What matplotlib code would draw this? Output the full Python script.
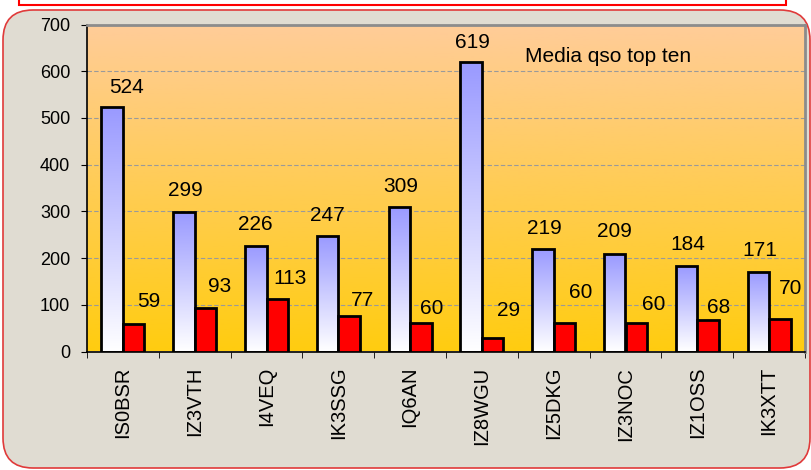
import numpy as np
import matplotlib
matplotlib.use('Agg')
import matplotlib.pyplot as plt
from matplotlib.patches import FancyBboxPatch, Rectangle
from matplotlib.colors import LinearSegmentedColormap

plt.rcParams['font.family'] = ['Liberation Sans', 'DejaVu Sans']

# dati
calls = ['IS0BSR', 'IZ3VTH', 'I4VEQ', 'IK3SSG', 'IQ6AN',
         'IZ8WGU', 'IZ5DKG', 'IZ3NOC', 'IZ1OSS', 'IK3XTT']
qso_blue = [524, 299, 226, 247, 309, 619, 219, 209, 184, 171]
qso_red = [59, 93, 113, 77, 60, 29, 60, 60, 68, 70]
title = 'Media qso top ten'
yticks = [0, 100, 200, 300, 400, 500, 600, 700]

# label offsets (pixels) - placed by hand in the original
blue_off = [(14, 21), (1, 23), (0, 23), (0, 23), (1, 23),
            (1, 22), (1, 23), (0, 24), (1, 23), (1, 23)]
red_off = [(15, 24), (14, 24), (13, 22), (13, 17), (11, 17),
           (16, 29), (16, 33), (17, 21), (11, 14), (11, 32)]

W, H = 811, 470
fig = plt.figure(figsize=(W / 100, H / 100), dpi=100)
fig.patch.set_facecolor('white')

# cornice esterna
frame = FancyBboxPatch((3, 2), 807, 458, boxstyle='round,pad=0,rounding_size=30',
                       transform=None, facecolor='#e0dcd2', edgecolor='#e03a3a', lw=1.2,
                       zorder=-2)
fig.add_artist(frame)
top_box = Rectangle((19, 465), 767, 20, transform=None,
                    facecolor='white', edgecolor='#ff0000', lw=1.5, zorder=-2)
fig.add_artist(top_box)

ax = fig.add_axes([87 / W, (H - 351.5) / H, 718 / W, 327 / H])
ax.set_facecolor('none')

# sfondo sfumato
bg = LinearSegmentedColormap.from_list('bg', ['#ffcc10', '#ffcc99'])
grad = np.linspace(0, 1, 256).reshape(-1, 1)
ax.imshow(grad, cmap=bg, origin='lower', extent=[-0.5, 9.5, 0, 700],
          aspect='auto', zorder=0)

x = np.arange(len(calls))
bw = 0.3
bars_b = ax.bar(x - bw / 2, qso_blue, bw, facecolor='none', edgecolor='black', lw=2.0, zorder=3)
bars_r = ax.bar(x + bw / 2, qso_red, bw, facecolor='#ff0000', edgecolor='black', lw=2.0, zorder=3)

blue_cm = LinearSegmentedColormap.from_list('bl', ['#ffffff', '#9999ff'])
for b in bars_b:
    x0, h = b.get_x(), b.get_height()
    im = ax.imshow(grad, cmap=blue_cm, origin='lower',
                   extent=[x0, x0 + b.get_width(), 0, h], aspect='auto', zorder=2)
    im.set_clip_path(b)

for i in range(len(calls)):
    ax.annotate(str(qso_blue[i]), (x[i] - bw / 2, qso_blue[i]), xytext=blue_off[i],
                textcoords='offset pixels', ha='center', va='center_baseline', fontsize=15)
    ax.annotate(str(qso_red[i]), (x[i] + bw / 2, qso_red[i]), xytext=red_off[i],
                textcoords='offset pixels', ha='center', va='center_baseline', fontsize=15)

ax.text(0.6101, 0.909, title, transform=ax.transAxes, ha='left', va='center_baseline',
        fontsize=15)

ax.set_xlim(-0.5, 9.5)
ax.set_ylim(0, 700)
ax.set_yticks(yticks)
ax.set_xticks(x)
ax.set_xticklabels(calls, rotation=90, fontsize=14.5)
ax.set_xticks(np.arange(-0.5, 10, 1), minor=True)
ax.tick_params(axis='x', which='major', length=0, pad=11)
ax.tick_params(axis='x', which='minor', length=4, direction='out', color='black')
ax.tick_params(axis='y', length=4.5, direction='out', labelsize=13, pad=7.5)

ax.yaxis.grid(True, linestyle=(0, (4, 2)), color='#9a9a9a', lw=0.8)
ax.set_axisbelow(True)

for s in ['left', 'bottom']:
    ax.spines[s].set_color('black')
    ax.spines[s].set_linewidth(1.2)
for s in ['top', 'right']:
    ax.spines[s].set_color('#8c8c8c')
    ax.spines[s].set_linewidth(2.0)

fig.savefig('out.png', dpi=100, facecolor='white')
